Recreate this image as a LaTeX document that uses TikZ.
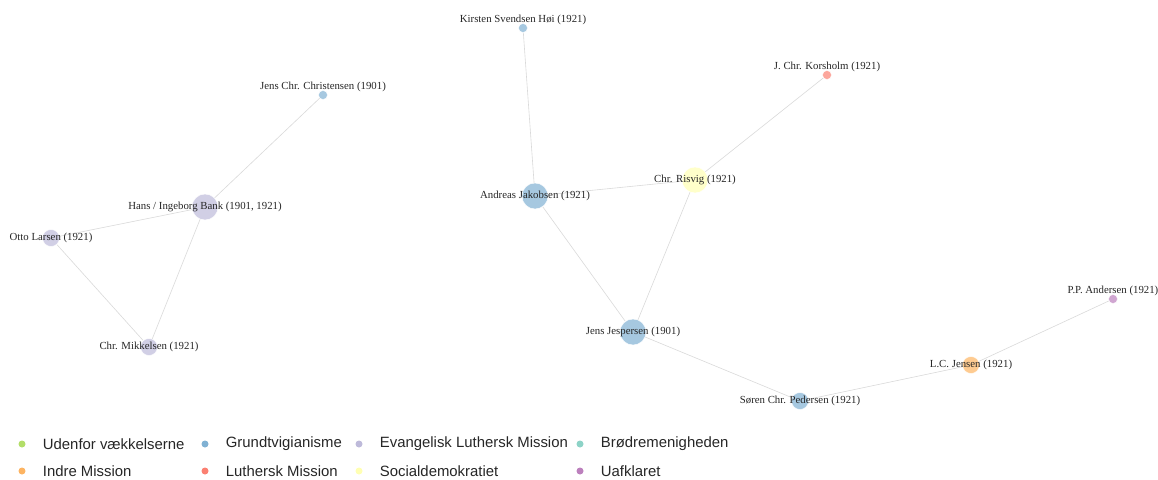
\documentclass[tikz,border=0pt]{standalone}
\usepackage{fontspec}
\setmainfont{Liberation Serif}
\setsansfont{Liberation Sans}
\usepackage{tikz}
\usetikzlibrary{positioning,backgrounds}
\definecolor{cUdenfor}{RGB}{179,222,105}
\definecolor{cGrundtvig}{RGB}{128,177,211}
\definecolor{cELM}{RGB}{190,186,218}
\definecolor{cBroedre}{RGB}{141,211,199}
\definecolor{cIM}{RGB}{253,180,98}
\definecolor{cLM}{RGB}{251,128,114}
\definecolor{cSocial}{RGB}{255,255,179}
\definecolor{cUafklaret}{RGB}{188,128,189}
\tikzset{
person/.style={circle,inner sep=0pt,fill=#1!70,draw=white,line width=.4pt},
small/.style={minimum size=9pt},
medium/.style={minimum size=17pt},
large/.style={minimum size=26pt},
who/.style={font=\fontsize{10.8}{12}\selectfont,text=black!85,inner sep=0pt},
link/.style={draw=black!15,line width=.6pt},
keydot/.style={circle,inner sep=0pt,minimum size=7pt,fill=#1},
keytext/.style={font=\sffamily\fontsize{14.9}{17}\selectfont,text=black!85,inner sep=0pt}
}

\begin{document}
\begin{tikzpicture}[x=1pt,y=-1pt]
\useasboundingbox (0,0) rectangle (1158,479);
% left group
\node[person=cGrundtvig,small,label={[who,yshift=8pt]center:Jens Chr. Christensen (1901)}] (christensen) at (323,95) {};
\node[person=cELM,large,label={[who]center:Hans / Ingeborg Bank (1901, 1921)}] (bank) at (205,207) {};
\node[person=cELM,medium,label={[who]center:Otto Larsen (1921)}] (larsen) at (51,238) {};
\node[person=cELM,medium,label={[who]center:Chr. Mikkelsen (1921)}] (mikkelsen) at (149,347) {};
% right group
\node[person=cGrundtvig,small,label={[who,yshift=8pt]center:Kirsten Svendsen Høi (1921)}] (hoei) at (523,28) {};
\node[person=cLM,small,label={[who,yshift=8pt]center:J. Chr. Korsholm (1921)}] (korsholm) at (827,75) {};
\node[person=cGrundtvig,large,label={[who]center:Andreas Jakobsen (1921)}] (jakobsen) at (535,196) {};
\node[person=cSocial,large,label={[who]center:Chr. Risvig (1921)}] (risvig) at (695,180) {};
\node[person=cGrundtvig,large,label={[who]center:Jens Jespersen (1901)}] (jespersen) at (633,332) {};
\node[person=cGrundtvig,medium,label={[who]center:Søren Chr. Pedersen (1921)}] (pedersen) at (800,401) {};
\node[person=cIM,medium,label={[who]center:L.C. Jensen (1921)}] (jensen) at (971,365) {};
\node[person=cUafklaret,small,label={[who,yshift=8pt]center:P.P. Andersen (1921)}] (andersen) at (1113,299) {};
\begin{pgfonlayer}{background}
\draw[link] (christensen) -- (bank);
\draw[link] (bank) -- (larsen);
\draw[link] (bank) -- (mikkelsen);
\draw[link] (larsen) -- (mikkelsen);
\draw[link] (hoei) -- (jakobsen);
\draw[link] (jakobsen) -- (risvig);
\draw[link] (risvig) -- (korsholm);
\draw[link] (risvig) -- (jespersen);
\draw[link] (jakobsen) -- (jespersen);
\draw[link] (jespersen) -- (pedersen);
\draw[link] (pedersen) -- (jensen);
\draw[link] (jensen) -- (andersen);
\end{pgfonlayer}
% legend
\node[keydot=cUdenfor] (k1) at (22,444) {};
\node[keytext,right=17pt of k1] (k1t) {Udenfor vækkelserne};
\node[keydot=cGrundtvig] (k2) at (205,444) {};
\node[keytext,right=17pt of k2] (k2t) {Grundtvigianisme};
\node[keydot=cELM] (k3) at (359,444) {};
\node[keytext,right=17pt of k3] (k3t) {Evangelisk Luthersk Mission};
\node[keydot=cBroedre] (k4) at (580,444) {};
\node[keytext,right=17pt of k4] (k4t) {Brødremenigheden};
\node[keydot=cIM] (k5) at (22,471) {};
\node[keytext,right=17pt of k5] (k5t) {Indre Mission};
\node[keydot=cLM] (k6) at (205,471) {};
\node[keytext,right=17pt of k6] (k6t) {Luthersk Mission};
\node[keydot=cSocial] (k7) at (359,471) {};
\node[keytext,right=17pt of k7] (k7t) {Socialdemokratiet};
\node[keydot=cUafklaret] (k8) at (580,471) {};
\node[keytext,right=17pt of k8] (k8t) {Uafklaret};
\end{tikzpicture}
\end{document}
